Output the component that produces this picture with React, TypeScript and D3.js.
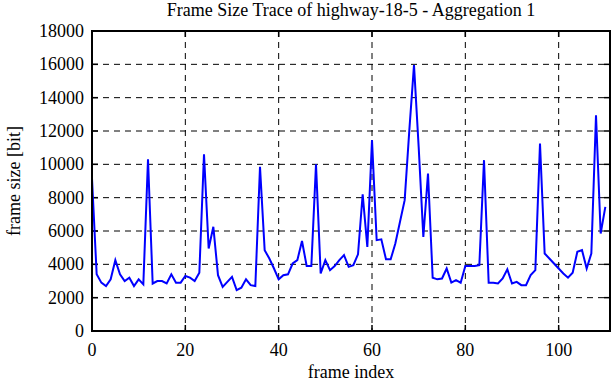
import React from 'react';
import * as d3 from 'd3';

// frame sizes in bits, one per frame (index 0..110)
const frameSizes: number[] = [
  9150, 3400, 2900, 2700, 3100, 4250, 3400, 3000, 3200, 2700, 3100, 2800,
  10300, 2850, 3000, 3000, 2850, 3400, 2900, 2900, 3300, 3200, 3000, 3500,
  10600, 4950, 6250, 3350, 2650, 2950, 3250, 2450, 2600, 3100, 2750, 2700,
  9850, 4850, 4350, 3750, 3100, 3350, 3400, 4050, 4250, 5400, 3900, 3900,
  10000, 3450, 4250, 3650, 3900, 4250, 4550, 3850, 3950, 4600, 8200, 5050,
  11450, 5450, 5500, 4300, 4300, 5250, 6550, 7850, 12050, 15950, 11050, 5650,
  9450, 3200, 3100, 3150, 3750, 2900, 3050, 2900, 3900, 3900, 3900, 3950,
  10250, 2900, 2900, 2850, 3150, 3700, 2850, 2950, 2750, 2750, 3350, 3650,
  11250, 4650, 4350, 4050, 3750, 3450, 3200, 3500, 4750, 4850, 3750, 4650,
  12950, 5850, 7450,
];
const xTicks: number[] = [0, 20, 40, 60, 80, 100];
const yTicks: number[] = [0, 2000, 4000, 6000, 8000, 10000, 12000, 14000, 16000, 18000];

const title = 'Frame Size Trace of highway-18-5 - Aggregation 1';
const xLabel = 'frame index';
const yLabel = 'frame size [bit]';

export default function App() {
  const width = 612;
  const height = 382;
  const margin = { top: 31, right: 2, bottom: 51, left: 92 };
  const innerW = width - margin.left - margin.right;
  const innerH = height - margin.top - margin.bottom;

  const x = d3.scaleLinear().domain([0, 111]).range([0, innerW]);
  const y = d3.scaleLinear().domain([0, 18000]).range([innerH, 0]);

  const line = d3
    .line<number>()
    .x((_, i) => x(i))
    .y((d) => y(d));

  const font = '"Liberation Serif", "DejaVu Serif", serif';
  const tick = 6;

  return (
    <svg
      width={width}
      height={height}
      style={{ position: 'absolute', left: 0, top: 0, background: '#fff' }}
      fontFamily={font}
    >
      <rect width={width} height={height} fill="#fff" />
      <text x={margin.left + innerW / 2} y={16} textAnchor="middle" fontSize={18}>
        {title}
      </text>
      <g transform={`translate(${margin.left},${margin.top})`}>
        {/* grid */}
        {xTicks.slice(1).map((t) => (
          <line key={'gx' + t} x1={x(t)} x2={x(t)} y1={0} y2={innerH}
            stroke="#000" strokeWidth={1} strokeDasharray="6,5" />
        ))}
        {yTicks.slice(1, -1).map((t) => (
          <line key={'gy' + t} x1={0} x2={innerW} y1={y(t)} y2={y(t)}
            stroke="#000" strokeWidth={1} strokeDasharray="6,5" />
        ))}
        {/* ticks */}
        {xTicks.map((t) => (
          <g key={'tx' + t}>
            <line x1={x(t)} x2={x(t)} y1={innerH} y2={innerH - tick} stroke="#000" strokeWidth={1.5} />
            <line x1={x(t)} x2={x(t)} y1={0} y2={tick} stroke="#000" strokeWidth={1.5} />
            <text x={x(t)} y={innerH + 25} textAnchor="middle" fontSize={18}>{t}</text>
          </g>
        ))}
        {yTicks.map((t) => (
          <g key={'ty' + t}>
            <line x1={0} x2={tick} y1={y(t)} y2={y(t)} stroke="#000" strokeWidth={1.5} />
            <line x1={innerW} x2={innerW - tick} y1={y(t)} y2={y(t)} stroke="#000" strokeWidth={1.5} />
            <text x={-8} y={y(t) + 6} textAnchor="end" fontSize={18}>{t}</text>
          </g>
        ))}
        {/* data */}
        <path d={line(frameSizes) ?? ''} fill="none" stroke="#0000ff" strokeWidth={2} strokeLinejoin="miter" />
        {/* border */}
        <rect x={0} y={0} width={innerW} height={innerH} fill="none" stroke="#000" strokeWidth={2} />
      </g>
      <text x={margin.left + innerW / 2} y={378} textAnchor="middle" fontSize={18}>
        {xLabel}
      </text>
      <text
        transform={`translate(20,${margin.top + innerH / 2}) rotate(-90)`}
        textAnchor="middle"
        fontSize={18}
      >
        {yLabel}
      </text>
    </svg>
  );
}
